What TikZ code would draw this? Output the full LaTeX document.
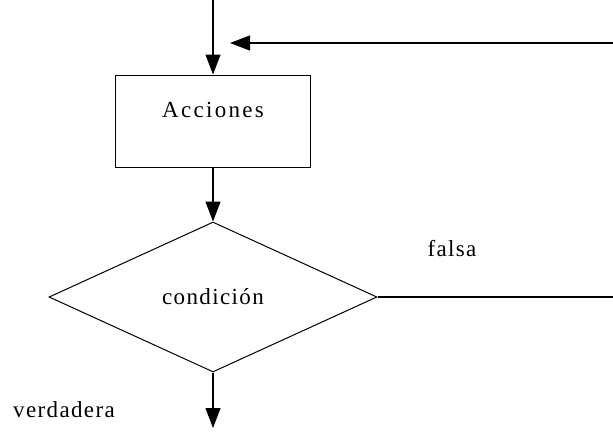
\documentclass[tikz,border=0pt]{standalone}
\usepackage{fontspec}
\setmainfont{Liberation Serif}
\usetikzlibrary{shapes.geometric,arrows.meta}

\begin{document}
\begin{tikzpicture}[x=1pt,y=-1pt,
    caja/.style={rectangle,draw,line width=1pt,minimum width=195pt,minimum height=92pt,text depth=22pt,font=\fontsize{23}{26}\selectfont\addfontfeature{LetterSpace=10}},
    rombo/.style={diamond,draw,line width=1pt,minimum width=328pt,minimum height=150pt,inner sep=0pt,font=\fontsize{23}{26}\selectfont\addfontfeature{LetterSpace=6}},
    etiqueta/.style={font=\fontsize{23}{26}\selectfont\addfontfeature{LetterSpace=6}},
    flecha/.style={line width=1.2pt,-{Triangle[length=20pt,width=15pt]}},
    linea/.style={line width=1.2pt}]
    \useasboundingbox (0,0) rectangle (613,432);
    \coordinate (entrada) at (213,0);
    \coordinate (retorno) at (613,43);
    \coordinate (llegada) at (230,43);
    \node [caja] (acciones) at (213,121) {Acciones};
    \node [rombo] (cond) at (213,297) {condición};
    \coordinate (salida) at (613,297);
    \coordinate (fin) at (213,428);
    \draw [flecha] (entrada) -- (acciones.north);
    \draw [flecha] (retorno) -- (llegada);
    \draw [flecha] (acciones) -- (cond.north);
    \draw [linea] (cond.east) -- (salida);
    \draw [flecha] (cond.south) -- (fin);
    \node [etiqueta] (falsa) at (452,249) {falsa};
    \node [etiqueta] (verdadera) at (64,410) {verdadera};
\end{tikzpicture}
\end{document}
